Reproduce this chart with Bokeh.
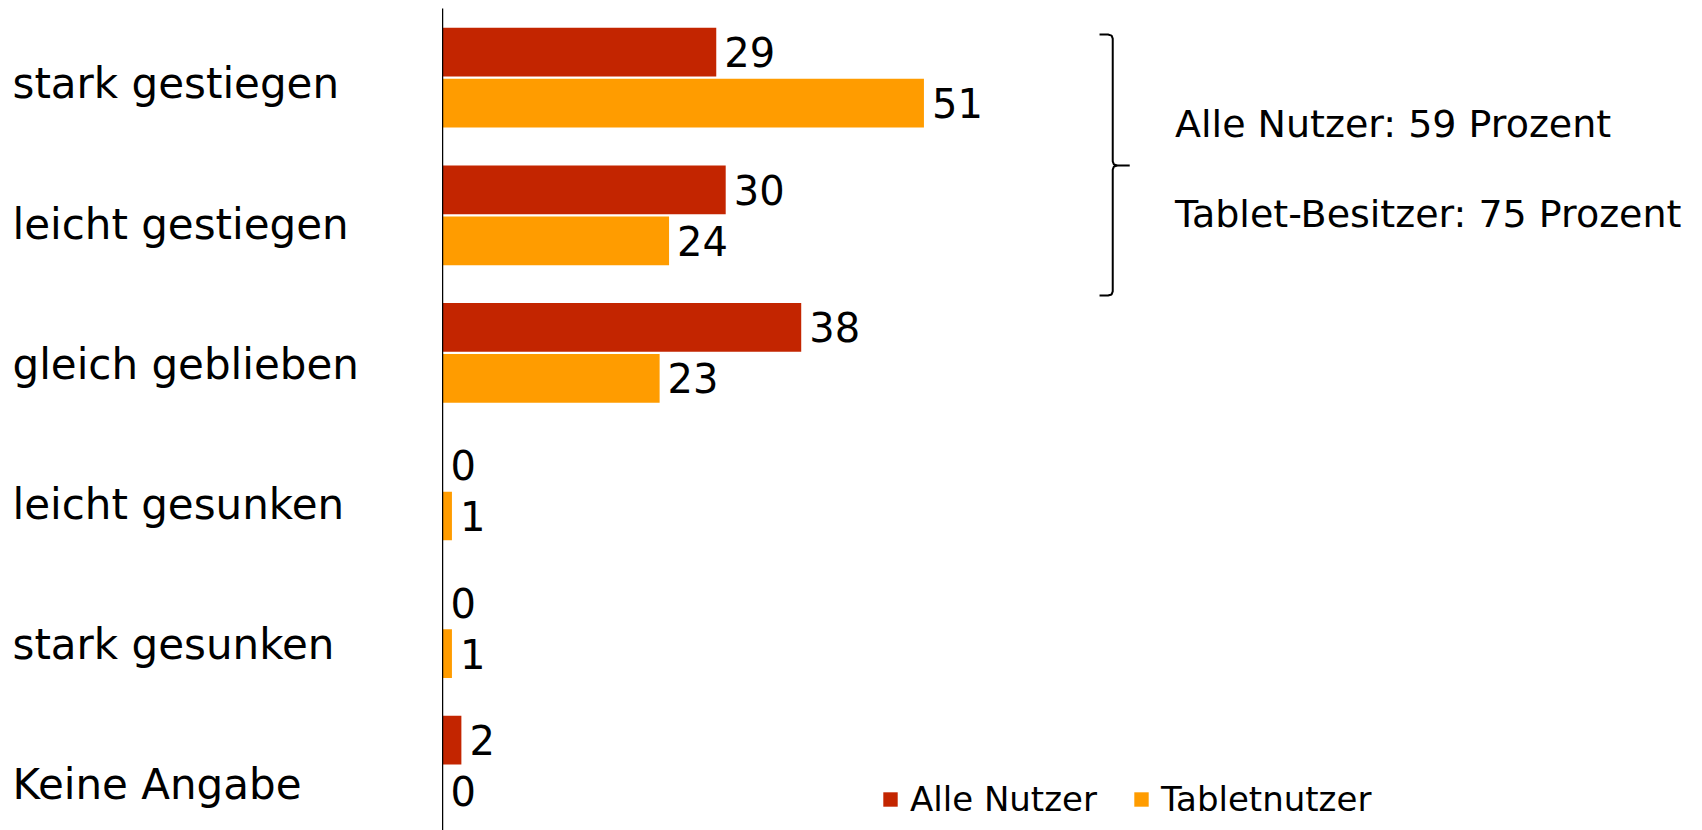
from bokeh.plotting import figure
from bokeh.layouts import row
from bokeh.models import ColumnDataSource, Range1d, FixedTicker, Legend, LegendItem, Label
from bokeh.transform import dodge
from bokeh.core.properties import value
from bokeh.embed import file_html
from bokeh.resources import INLINE

# ---------------- data ----------------
categories = ["stark gestiegen", "leicht gestiegen", "gleich geblieben",
              "leicht gesunken", "stark gesunken", "Keine Angabe"]
alle_nutzer = [29, 30, 38, 0, 0, 2]
tabletnutzer = [51, 24, 23, 1, 1, 0]
series_names = ["Alle Nutzer", "Tabletnutzer"]
summary_texts = ["Alle Nutzer: 59 Prozent", "Tablet-Besitzer: 75 Prozent"]

# ---------------- styles ----------------
RED = "#C32500"
ORANGE = "#FF9C00"
FONT = "DejaVu Sans"
H = 830
TOP_GAP = 8
LEFT_W = 442
RIGHT_W = 1258
PX_PER_UNIT = 9.44
OFF = 0.1853
BAR_H = 0.354
BAR_BAND = 137.6
LABEL_BAND = 141.6
TEXT_SHIFT = 0.087

pos = list(range(len(categories)))
src = ColumnDataSource(dict(
    pos=pos, cat=categories,
    alle=alle_nutzer, tab=tabletnutzer,
    alle_lbl=[str(v) for v in alle_nutzer],
    tab_lbl=[str(v) for v in tabletnutzer],
))

# ---------------- category label panel ----------------
lab_top = -76 / LABEL_BAND
lab = figure(width=LEFT_W, height=H, x_range=Range1d(0, 1),
             y_range=Range1d(lab_top + H / LABEL_BAND, lab_top),
             x_axis_type=None, y_axis_type=None,
             output_backend="svg", toolbar_location=None,
             min_border=0, outline_line_color=None)
lab.grid.visible = False
lab.text(x=0, y="pos", text="cat", source=src, x_offset=12,
         text_font=value(FONT), text_font_size="42px",
         text_baseline="alphabetic", text_align="left", text_color="black")

# ---------------- bar chart ----------------
frame_h = H - TOP_GAP
bar_top = -(77.2 - TOP_GAP) / BAR_BAND
p = figure(width=RIGHT_W, height=H,
           x_range=Range1d(0, RIGHT_W / PX_PER_UNIT),
           y_range=Range1d(bar_top + frame_h / BAR_BAND, bar_top),
           x_axis_type=None,
           output_backend="svg", toolbar_location=None,
           min_border=0, min_border_top=TOP_GAP, outline_line_color=None)
p.grid.visible = False
p.yaxis.ticker = FixedTicker(ticks=[])
p.yaxis.major_label_text_font_size = "0px"
p.yaxis.major_label_standoff = 0
p.yaxis.major_tick_in = 0
p.yaxis.major_tick_out = 0
p.yaxis.minor_tick_in = 0
p.yaxis.minor_tick_out = 0
p.yaxis.axis_line_color = "black"
p.yaxis.axis_line_width = 1.5

y_alle = dodge("pos", -OFF)
y_tab = dodge("pos", OFF)

r_alle = p.hbar(y=y_alle, left=0, right="alle", height=BAR_H, source=src,
                fill_color=RED, line_color=None)
r_tab = p.hbar(y=y_tab, left=0, right="tab", height=BAR_H, source=src,
               fill_color=ORANGE, line_color=None)

for xcol, lcol, ycol in (("alle", "alle_lbl", y_alle), ("tab", "tab_lbl", y_tab)):
    p.text(x=xcol, y=ycol, text=lcol, source=src, x_offset=8,
           text_baseline="middle", text_align="left",
           text_font=value(FONT), text_font_size="40px", text_color="black")

# bracket spanning the first two categories
b_top = pos[0] - 0.314
b_mid = pos[0] + 0.638
b_bot = pos[1] + 0.583
bx0, bx1, bx2 = 69.6, 71.0, 72.8
bxs = [bx0, bx1 - 0.5, bx1 - 0.12, bx1, bx1, bx1 + 0.12, bx1 + 0.5, bx2,
       bx1 + 0.5, bx1 + 0.12, bx1, bx1, bx1 - 0.12, bx1 - 0.5, bx0]
bys = [b_top, b_top, b_top + 0.008, b_top + 0.03, b_mid - 0.03, b_mid - 0.008, b_mid, b_mid,
       b_mid, b_mid + 0.008, b_mid + 0.03, b_bot - 0.03, b_bot - 0.008, b_bot, b_bot]
p.line(x=bxs, y=bys, line_color="black", line_width=2)

for txt, yy in zip(summary_texts, (pos[0] + 0.42 - TEXT_SHIFT, pos[1] + 0.074 - TEXT_SHIFT)):
    p.add_layout(Label(x=77.6, y=yy, text=txt, text_font=FONT,
                       text_font_size="38px", text_baseline="alphabetic",
                       text_align="left", text_color="black"))

legend = Legend(items=[LegendItem(label=series_names[0], renderers=[r_alle]),
                       LegendItem(label=series_names[1], renderers=[r_tab])],
                orientation="horizontal", location=(439, 11),
                glyph_width=18, glyph_height=18, label_standoff=11,
                spacing=35, padding=0, margin=0,
                border_line_color=None, background_fill_alpha=0,
                label_text_font=FONT, label_text_font_size="34px",
                label_text_color="black")
p.add_layout(legend)

layout = row(lab, p)
open("out.html", "w").write(file_html(layout, INLINE))
